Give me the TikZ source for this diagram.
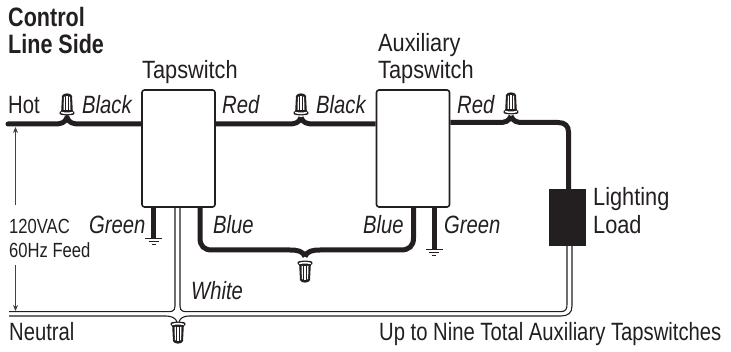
\documentclass[tikz,border=0pt]{standalone}
\usepackage{fontspec}
\setmainfont{Liberation Sans}[FakeStretch=0.81]
\newfontfamily\headf{Liberation Sans}[FakeStretch=0.87]
\usetikzlibrary{arrows.meta}
\definecolor{ink}{HTML}{231F20}
\tikzset{
 x=1pt,y=-1pt,
 lab/.style={font=\fontsize{25}{25}\selectfont,text=ink,inner sep=0pt,anchor=base west},
 head/.style={lab,font=\headf\fontsize{25}{25}\selectfont},
 ilab/.style={lab,font=\fontsize{25}{25}\selectfont\itshape},
 small/.style={lab,font=\fontsize{20.5}{25}\selectfont},
 bold/.style={lab,font=\fontsize{26.6}{25}\selectfont\bfseries},
 hotw/.style={line width=5pt,draw=ink},
 tapbox/.style={draw=ink,line width=1.6pt,fill=white,rounded corners=2.5pt,inner sep=0pt,minimum width=73pt,minimum height=117pt},
 dim/.style={draw=ink!85,line width=0.8pt},
 thinw/.style={draw=ink,line width=1.1pt},
 nut/.pic={
  \fill[ink] (-5.8,-4) -- (-5,-19) .. controls (-4.5,-22.5) and (4.5,-22.5) .. (5,-19) -- (5.8,-4) -- (7.4,-3) -- (7.4,-1) .. controls (6,0.8) and (-6,0.8) .. (-7.4,-1) -- (-7.4,-3) -- cycle;
  \fill[white] (-5.8,-1.8) .. controls (-3,-0.6) and (3,-0.6) .. (5.8,-1.8) -- (5.8,-3.2) .. controls (3,-2.4) and (-3,-2.4) .. (-5.8,-3.2) -- cycle;
  \fill[white] (-3.5,-5) -- (-3.1,-18) -- (-2.1,-18.5) -- (-2.1,-5) -- cycle;
  \fill[white] (-0.6,-5) -- (-0.6,-19) -- (0.6,-19) -- (0.6,-5) -- cycle;
  \fill[white] (3.5,-5) -- (3.1,-18) -- (2.1,-18.5) -- (2.1,-5) -- cycle;
 },
 gnd/.pic={
  \draw[ink,line width=1pt] (-8.5,0) -- (8.5,0) (-5,3) -- (5,3) (-2,6) -- (2,6);
 }
}
\begin{document}
\begin{tikzpicture}
\useasboundingbox (0,0) rectangle (731,352);
\node[tapbox] (sw1) at (178.5,148.5) {};
\node[tapbox] (sw2) at (413,148.5) {};
\node[fill=ink,inner sep=0pt,minimum width=37pt,minimum height=57pt] (load) at (567.5,217.5) {};
\coordinate (hot) at (8,124);
\coordinate (nA) at (67,117.5);
\coordinate (nB) at (301,117.5);
\coordinate (nC) at (511,116);
\coordinate (nD) at (305,256.5);
% hot wires
\draw[hotw,line cap=round] (hot) -- (54,124) .. controls (61,124) and (65,123) .. (nA);
\draw[hotw] (nA) .. controls (69,123) and (73,124) .. (80,124) -- (sw1.west |- 0,124);
\draw[hotw] (sw1.east |- 0,124) -- (288,124) .. controls (295,124) and (299,123) .. (nB);
\draw[hotw] (nB) .. controls (303,123) and (307,124) .. (314,124) -- (sw2.west |- 0,124);
\draw[hotw] (sw2.east |- 0,122.5) -- (499,122.5) .. controls (505,122.5) and (509,121.5) .. (nC);
\draw[hotw] (nC) .. controls (513,121.5) and (517,122.5) .. (523,122.5) -- (558,122.5) .. controls (565,122.5) and (568.5,126) .. (568.5,132) -- (568.5,189);
% blue
\draw[hotw] (200,207) -- (200,238) .. controls (200,246) and (204,250) .. (212,250) -- (290,250) .. controls (297,250) and (303,251) .. (nD);
\draw[hotw] (413.5,207) -- (413.5,238) .. controls (413.5,246) and (409,250) .. (401,250) -- (320,250) .. controls (313,250) and (307,251) .. (nD);
% green
\draw[ink,line width=5pt] (153.5,207) -- (153.5,239);
\draw[ink,line width=5pt] (434,207) -- (434,250);
\pic at (153.5,239) {gnd};
\pic at (434,250) {gnd};
% neutral
\draw[thinw] (9,311.7) -- (166,311.7) .. controls (171,311.7) and (175,312) .. (175,306) -- (175,207);
\draw[thinw] (180,207) -- (180,306) .. controls (180,312) and (184,311.7) .. (189,311.7) -- (560,311.7) .. controls (566,311.7) and (567,309) .. (567,304) -- (567,246);
\draw[thinw] (572,246) -- (572,306) .. controls (572,313) and (568,316) .. (561,316) -- (189,316) .. controls (184,316) and (180,318) .. (179,322);
\draw[thinw] (9,316) -- (166,316) .. controls (171,316) and (176,318) .. (177,322);
% nuts
\pic at (67,115) {nut};
\pic at (301,115) {nut};
\pic at (511,114) {nut};
\pic[rotate=180] at (305,261) {nut};
\pic[rotate=180] at (178,322) {nut};
% dimension
\draw[dim,-{Stealth[length=6pt,width=5pt]}] (15.5,205) -- (15.5,127);
\draw[dim,-{Stealth[length=6pt,width=5pt]}] (15.5,265) -- (15.5,311);
% labels
\node[bold] (t1) at (8,27) {Control};
\node[bold] (t2) at (8,54) {Line Side};
\node[head] (t3) at (142,79) {Tapswitch};
\node[head] (t4) at (378,52) {Auxiliary};
\node[head] (t5) at (378,79) {Tapswitch};
\node[lab] (t6) at (8,114) {Hot};
\node[ilab] (t7) at (82,114) {Black};
\node[ilab] (t8) at (222,114) {Red};
\node[ilab] (t9) at (316,114) {Black};
\node[ilab] (t10) at (457,114) {Red};
\node[ilab] (t11) at (89,234) {Green};
\node[ilab] (t12) at (213,234) {Blue};
\node[ilab] (t13) at (363,234) {Blue};
\node[ilab] (t14) at (444,234) {Green};
\node[ilab] (t15) at (191,300) {White};
\node[small] (t16) at (9,234) {120VAC};
\node[small] (t17) at (9,258) {60Hz Feed};
\node[lab] (t18) at (9,341) {Neutral};
\node[head] (t19) at (593,206) {Lighting};
\node[head] (t20) at (593,234) {Load};
\node[lab] (t21) at (379,341) {Up to Nine Total Auxiliary Tapswitches};
\end{tikzpicture}
\end{document}
